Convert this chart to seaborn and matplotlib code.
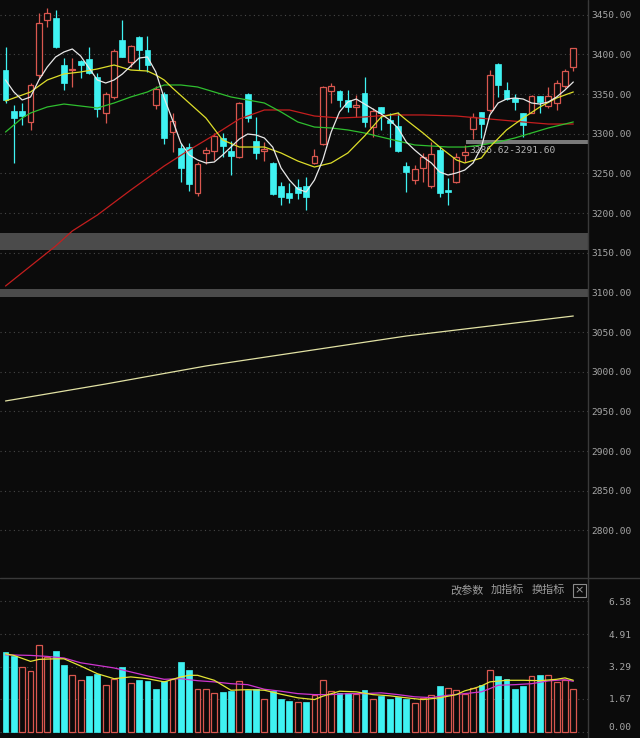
import numpy as np
import seaborn as sns
import matplotlib.pyplot as plt
from matplotlib.patches import Rectangle
from matplotlib.lines import Line2D

# === daily candles (index 0 = leftmost candle) ===
opens = [3380.3, 3328.6, 3328.6, 3314.8, 3374.0, 3443.3, 3445.8, 3386.6, 3380.3, 3391.6,
         3394.2, 3371.5, 3326.1, 3346.3, 3418.1, 3390.4, 3421.9, 3405.5, 3336.2, 3350.0,
         3302.1, 3282.0, 3283.2, 3225.2, 3275.7, 3278.2, 3294.6, 3278.2, 3270.6, 3350.0,
         3290.8, 3278.2, 3263.0, 3234.1, 3225.2, 3232.8, 3234.1, 3263.0, 3287.0, 3353.8,
         3353.8, 3342.5, 3333.7, 3351.3, 3308.4, 3333.7, 3317.3, 3309.7, 3259.3, 3241.6,
         3256.8, 3234.1, 3279.4, 3229.0, 3239.1, 3273.1, 3305.9, 3327.4, 3329.9, 3387.9,
         3355.1, 3345.0, 3326.1, 3326.1, 3347.5, 3334.9, 3338.7, 3360.1, 3384.1]
highs = [3409.3, 3336.2, 3338.7, 3363.9, 3452.1, 3458.4, 3455.9, 3395.4, 3395.4, 3392.9,
         3409.3, 3376.5, 3352.6, 3406.8, 3443.3, 3411.8, 3423.2, 3423.2, 3360.1, 3352.6,
         3326.1, 3288.3, 3288.3, 3264.3, 3283.2, 3300.9, 3300.9, 3290.8, 3340.0, 3351.3,
         3321.1, 3289.5, 3264.3, 3239.1, 3237.8, 3242.9, 3245.4, 3280.7, 3360.1, 3363.9,
         3355.1, 3355.1, 3348.8, 3371.5, 3332.4, 3333.7, 3326.1, 3327.4, 3264.3, 3260.5,
         3275.7, 3289.5, 3284.5, 3244.1, 3275.7, 3285.7, 3326.1, 3327.4, 3380.3, 3389.2,
         3365.2, 3350.0, 3326.1, 3348.8, 3347.5, 3358.9, 3367.7, 3381.6, 3408.0]
lows = [3338.7, 3263.0, 3311.0, 3304.7, 3370.2, 3434.5, 3408.0, 3355.1, 3358.9, 3370.2,
        3375.3, 3321.1, 3313.5, 3343.7, 3396.7, 3384.1, 3380.3, 3377.8, 3331.1, 3287.0,
        3276.9, 3239.1, 3227.8, 3221.5, 3261.8, 3266.8, 3270.6, 3247.9, 3270.0, 3314.8,
        3268.1, 3265.6, 3222.7, 3210.1, 3212.7, 3217.7, 3203.8, 3262.0, 3285.7, 3338.7,
        3333.7, 3327.4, 3321.1, 3308.4, 3295.8, 3304.7, 3283.2, 3276.9, 3226.5, 3236.6,
        3239.1, 3231.5, 3220.2, 3210.1, 3237.8, 3264.3, 3293.3, 3294.6, 3327.4, 3346.3,
        3342.5, 3329.9, 3295.8, 3326.1, 3326.1, 3332.4, 3329.9, 3357.6, 3379.0]
closes = [3342.5, 3319.8, 3322.3, 3361.4, 3439.5, 3452.1, 3409.3, 3363.9, 3381.6, 3386.6,
          3376.5, 3331.1, 3350.0, 3404.2, 3396.7, 3410.5, 3405.5, 3386.6, 3356.4, 3294.6,
          3316.0, 3256.8, 3236.6, 3261.8, 3279.4, 3297.1, 3284.5, 3271.9, 3338.7, 3319.8,
          3275.7, 3280.7, 3224.0, 3220.2, 3219.0, 3225.2, 3220.2, 3271.9, 3358.9, 3360.1,
          3342.5, 3333.7, 3336.2, 3314.8, 3328.6, 3326.1, 3313.5, 3278.2, 3251.7, 3255.5,
          3270.6, 3274.4, 3225.2, 3226.0, 3270.6, 3276.9, 3321.1, 3312.2, 3374.0, 3361.4,
          3343.7, 3340.0, 3311.0, 3347.5, 3340.0, 3347.5, 3363.9, 3379.0, 3408.0]
volumes = [4.02, 3.82, 3.27, 3.07, 4.35, 3.77, 4.07, 3.35, 2.88, 2.63,
           2.80, 2.93, 2.38, 2.67, 3.27, 2.48, 2.60, 2.55, 2.18, 2.58,
           2.65, 3.52, 3.10, 2.18, 2.15, 1.98, 2.02, 2.05, 2.55, 2.13,
           2.17, 1.68, 2.08, 1.65, 1.57, 1.52, 1.52, 1.88, 2.60, 2.05,
           1.98, 1.95, 1.90, 2.10, 1.65, 1.82, 1.65, 1.77, 1.68, 1.48,
           1.73, 1.85, 2.30, 2.23, 2.13, 1.90, 2.23, 2.35, 3.10, 2.80,
           2.68, 2.15, 2.30, 2.80, 2.85, 2.88, 2.52, 2.60, 2.18]

# === moving-average lines, sampled off the chart ===
ma5 = [3367.7, 3352.6, 3342.5, 3346.3, 3367.7, 3384.1, 3396.7, 3403.0, 3406.8, 3397.9,
       3382.8, 3367.7, 3363.9, 3367.7, 3375.3, 3385.3, 3395.4, 3396.7, 3377.8, 3345.0,
       3317.3, 3288.3, 3273.2, 3266.9, 3263.1, 3264.3, 3273.2, 3283.2, 3293.3, 3299.6,
       3298.4, 3294.6, 3283.2, 3256.8, 3241.6, 3230.3, 3226.5, 3241.6, 3266.9, 3302.1,
       3327.4, 3340.0, 3343.7, 3337.4, 3331.1, 3324.8, 3317.3, 3307.2, 3289.5, 3279.5,
       3270.6, 3263.1, 3251.7, 3247.9, 3250.5, 3254.2, 3263.1, 3283.2, 3323.6, 3338.7,
       3343.7, 3345.0, 3343.7, 3338.7, 3337.4, 3340.0, 3346.3, 3355.1, 3365.2]
ma10_idx = [0, 3, 5, 7, 9, 11, 13, 15, 17, 18, 19, 20, 22, 24, 26, 28, 31, 33, 35, 37,
            39, 41, 43, 45, 47, 48, 50, 52, 54, 55, 57, 58, 60, 62, 64, 66, 68]
ma10 = [3341.2, 3352.6, 3367.7, 3375.3, 3377.8, 3381.6, 3386.6, 3380.3, 3379.0, 3374.0,
        3367.7, 3357.6, 3338.7, 3319.8, 3292.1, 3283.2, 3283.2, 3275.7, 3265.6, 3258.0,
        3263.1, 3275.7, 3297.1, 3321.1, 3326.1, 3317.3, 3300.9, 3283.2, 3266.9, 3263.1,
        3269.4, 3283.2, 3304.7, 3319.8, 3333.7, 3345.0, 3352.6]
ma20_idx = [0, 1, 2, 3, 5, 7, 9, 11, 13, 15, 17, 18, 19, 21, 23, 25, 27, 29, 31, 33,
            35, 37, 39, 41, 43, 45, 47, 49, 51, 53, 55, 57, 59, 61, 63, 65, 67, 68]
ma20 = [3302.1, 3311.0, 3319.8, 3326.1, 3333.7, 3337.4, 3334.9, 3332.4, 3338.7, 3346.3,
        3352.6, 3357.6, 3361.4, 3361.4, 3358.9, 3352.6, 3346.3, 3342.5, 3338.7, 3327.4,
        3314.8, 3308.4, 3307.2, 3304.7, 3300.9, 3295.8, 3290.8, 3285.8, 3284.5, 3283.2,
        3283.2, 3285.8, 3289.5, 3294.6, 3300.9, 3307.2, 3312.2, 3314.8]
ma60_idx = [0, 3, 6, 8, 11, 15, 19, 22, 25, 28, 31, 34, 37, 40, 43, 46, 50, 54, 58, 62, 65, 68]
ma60 = [3108.0, 3133.2, 3158.4, 3177.4, 3197.5, 3229.0, 3259.3, 3279.5, 3298.4, 3318.5,
        3329.9, 3329.9, 3322.3, 3319.8, 3321.1, 3323.6, 3323.6, 3322.3, 3318.5, 3314.8,
        3312.2, 3312.2]
ma250_idx = [0, 12, 24, 36, 48, 58, 68]
ma250 = [2963.1, 2984.5, 3007.2, 3026.1, 3045.0, 3057.6, 3070.2]

vma5_idx = [0, 1, 3, 4, 6, 7, 9, 11, 13, 15, 17, 19, 21, 22, 23, 25, 27, 29, 31, 33,
            35, 37, 38, 40, 42, 44, 46, 48, 50, 52, 54, 55, 56, 57, 58, 60, 62, 64, 66, 67, 68]
vma5 = [3.93, 3.85, 3.55, 3.65, 3.68, 3.68, 3.32, 2.93, 2.68, 2.77, 2.68, 2.52, 2.77, 2.85,
        2.85, 2.60, 2.10, 2.13, 2.10, 1.90, 1.72, 1.63, 1.80, 2.05, 2.02, 1.88, 1.82, 1.72,
        1.63, 1.72, 1.88, 2.07, 2.18, 2.32, 2.52, 2.60, 2.60, 2.58, 2.65, 2.72, 2.60]
vma10_idx = [0, 3, 5, 7, 9, 11, 13, 15, 17, 19, 21, 23, 25, 27, 29, 31, 33, 35, 37, 39,
             41, 43, 45, 47, 49, 51, 53, 55, 57, 58, 59, 61, 63, 65, 67, 68]
vma10 = [3.88, 3.85, 3.80, 3.72, 3.48, 3.35, 3.22, 3.02, 2.82, 2.65, 2.68, 2.58, 2.52, 2.43,
         2.38, 2.15, 2.05, 1.93, 1.88, 1.88, 1.93, 1.93, 1.97, 1.88, 1.77, 1.73, 1.85, 1.93,
         2.02, 2.18, 2.35, 2.38, 2.43, 2.57, 2.63, 2.55]

# gap bands and the price-range marker
gap_bands = [(3154.0, 3175.0), (3094.0, 3104.0)]
range_lo, range_hi, range_start = 3286.62, 3291.60, 55.2

price_ticks = [3450, 3400, 3350, 3300, 3250, 3200, 3150, 3100, 3050, 3000, 2950, 2900, 2850, 2800]
vol_ticks = [0.0, 1.67, 3.29, 4.91, 6.58]
menu_items = ["改参数", "加指标", "换指标"]

# === colours ===
BG = "#0b0b0b"
UP = "#d9574f"
DOWN = "#3ff2f2"
LABEL = "#a6a6a6"
GRID = "#474747"
FRAME = "#3a3a3a"

sns.set_style("dark", rc={"axes.facecolor": BG, "figure.facecolor": BG})
plt.rcParams["font.family"] = ["DejaVu Sans Mono", "Noto Sans CJK SC"]

W, H = 640, 738
fig = plt.figure(figsize=(W / 100, H / 100), dpi=100)
ax = fig.add_axes([0, 1 - 578 / H, 588 / W, 578 / H])
axv = fig.add_axes([0, 0, 588 / W, 160 / H])

o = np.array(opens); hi = np.array(highs); lo = np.array(lows); c = np.array(closes)
v = np.array(volumes)
x = np.arange(len(c))
up = c >= o
dn = ~up
body_lo = np.minimum(o, c)
body_hi = np.maximum(o, c)
body_h = np.maximum(body_hi - body_lo, 0.9)
xmax = 69.76

# === price panel ===
for b0, b1 in gap_bands:
    ax.axhspan(b0, b1, color="#4b4b4b", lw=0, zorder=1)
ax.fill_between([range_start, xmax], range_lo, range_hi, color="#7a7a7a", lw=0, zorder=1.5)
ax.text(range_start + 0.3, range_lo - 1.5, f"{range_lo:.2f}-{range_hi:.2f}",
        color="#b4b4b4", fontsize=6.8, va="top", ha="left", zorder=1.6)

ax.vlines(x[dn], lo[dn], hi[dn], color=DOWN, lw=0.9, zorder=3)
ax.vlines(x[up], lo[up], body_lo[up], color=UP, lw=0.9, zorder=3)
ax.vlines(x[up], body_hi[up], hi[up], color=UP, lw=0.9, zorder=3)
ax.bar(x[dn], body_h[dn], bottom=body_lo[dn], width=0.7, color=DOWN, edgecolor=DOWN, lw=0.5, zorder=3)
ax.bar(x[up], body_h[up], bottom=body_lo[up], width=0.7, facecolor=BG, edgecolor=UP, lw=0.9, zorder=3)

sns.lineplot(x=ma250_idx, y=ma250, ax=ax, color="#e2e2a4", lw=0.9, zorder=4)
sns.lineplot(x=ma60_idx, y=ma60, ax=ax, color="#c41e1e", lw=0.9, zorder=4)
sns.lineplot(x=ma20_idx, y=ma20, ax=ax, color="#2fbf2f", lw=0.9, zorder=4)
sns.lineplot(x=ma10_idx, y=ma10, ax=ax, color="#dede2a", lw=0.9, zorder=4)
sns.lineplot(x=list(x), y=ma5, ax=ax, color="#e8e8e8", lw=0.9, zorder=5)

ax.set_xlim(-0.66, xmax)
ax.set_yticks(price_ticks)
ax.set_yticklabels([f"{t:.2f}" for t in price_ticks])
ax.set_ylim(2739.96, 3468.53)

# === volume panel ===
vprev = np.r_[c[0] + 1, c[:-1]]
vup = c >= vprev
vdn = ~vup
axv.bar(x[vdn], v[vdn], width=0.7, color=DOWN, edgecolor=DOWN, lw=0.5, zorder=3)
axv.bar(x[vup], v[vup], width=0.7, facecolor=BG, edgecolor=UP, lw=0.9, zorder=3)
sns.lineplot(x=vma10_idx, y=vma10, ax=axv, color="#cf35cf", lw=0.9, zorder=4)
sns.lineplot(x=vma5_idx, y=vma5, ax=axv, color="#e4e434", lw=0.9, zorder=5)
axv.set_xlim(-0.66, xmax)
axv.set_yticks(vol_ticks)
axv.set_yticklabels([f"{t:.2f}" for t in vol_ticks])
axv.set_ylim(-0.30, 7.74)

for a in (ax, axv):
    a.set_xticks([])
    a.set_xlabel("")
    a.set_ylabel("")
    a.yaxis.tick_right()
    a.tick_params(axis="y", length=0, pad=31.5, labelsize=6.8, labelcolor=LABEL)
    for lbl in a.get_yticklabels():
        lbl.set_horizontalalignment("right")
    a.grid(axis="y", color=GRID, linestyle=(0, (1, 3)), lw=0.8, zorder=0)
    a.grid(axis="x", visible=False)
    for s in a.spines.values():
        s.set_visible(False)
axv.get_yticklabels()[0].set_verticalalignment("bottom")

# === frame lines, menu text ===
fig.add_artist(Line2D([0, 1], [1 - 578 / H] * 2, color=FRAME, lw=1.0))
fig.add_artist(Line2D([588 / W] * 2, [0, 1], color=FRAME, lw=1.0))
for txt, px in zip(menu_items, [450, 491, 532]):
    fig.text(px / W, 1 - 590 / H, txt, color="#9c9c9c", fontsize=8,
             family=["Noto Sans CJK SC"], va="center", ha="left")
fig.add_artist(Rectangle((573 / W, 1 - 597 / H), 13 / W, 13 / H, transform=fig.transFigure,
                         fill=False, edgecolor="#8a8a8a", lw=0.8))
fig.text(579.5 / W, 1 - 590.5 / H, "×", color="#9c9c9c", fontsize=8,
         family=["DejaVu Sans"], va="center", ha="center")

fig.savefig("out.png", dpi=100, facecolor=BG)
plt.close(fig)
